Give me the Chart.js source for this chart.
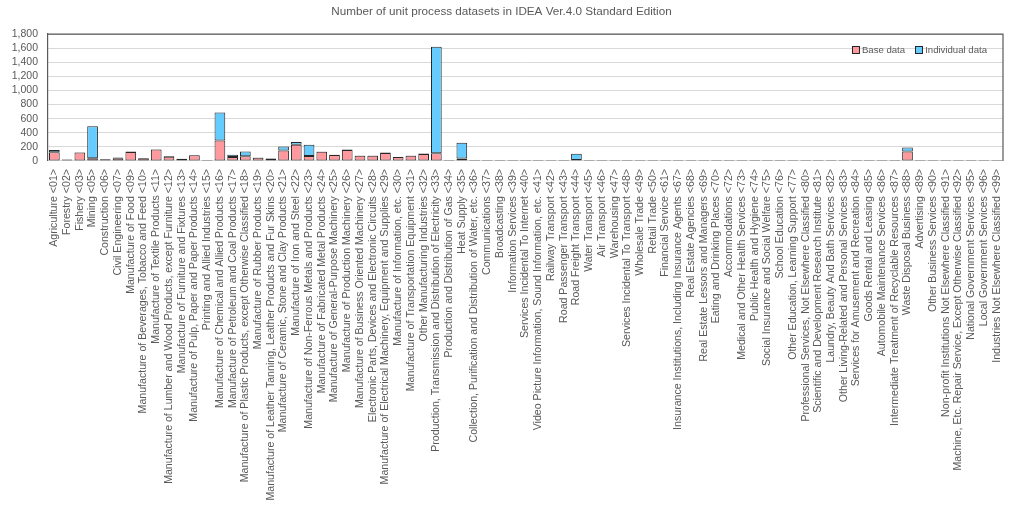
<!DOCTYPE html>
<html>
<head>
<meta charset="utf-8">
<title>IDEA Ver.4.0 unit process datasets</title>
<script src="https://cdn.jsdelivr.net/npm/chart.js@4"></script>
<style>
    html, body { margin: 0; padding: 0; background: #ffffff; }
    #wrap { position: relative; width: 1024px; height: 507px; }
    #legend {
        position: absolute; top: 44px; right: 37px;
        font: 9.6px 'Liberation Sans', Arial, sans-serif; color: #595959;
        display: flex; gap: 10px; white-space: nowrap;
    }
    #legend span.box {
        display: inline-block; width: 6px; height: 6px; margin-right: 2px;
        border: 1px solid #262626; vertical-align: -1px;
    }
</style>
</head>
<body>
<div id="wrap">
    <canvas id="chart" width="1024" height="507"></canvas>
    <div id="legend"></div>
</div>
<script>
"use strict";

const canvas = document.getElementById("chart");

const chartTitle = "Number of unit process datasets in IDEA Ver.4.0 Standard Edition";

const categories = [
    "Agriculture <01>", "Forestry <02>", "Fishery <03>", "Mining <05>", "Construction <06>",
    "Civil Engineering <07>", "Manufacture of Food <09>", "Manufacture of Beverages, Tobacco and Feed <10>",
    "Manufacture of Textile Products <11>", "Manufacture of Lumber and Wood Products, except Furniture <12>",
    "Manufacture of Furniture and Fixtures <13>", "Manufacture of Pulp, Paper and Paper Products <14>",
    "Printing and Allied Industries <15>", "Manufacture of Chemical and Allied Products <16>",
    "Manufacture of Petroleum and Coal Products <17>", "Manufacture of Plastic Products, except Otherwise Classified <18>",
    "Manufacture of Rubber Products <19>", "Manufacture of Leather Tanning, Leather Products and Fur Skins <20>",
    "Manufacture of Ceramic, Stone and Clay Products <21>", "Manufacture of Iron and Steel <22>",
    "Manufacture of Non-Ferrous Metals and Products <23>", "Manufacture of Fabricated Metal Products <24>",
    "Manufacture of General-Purpose Machinery <25>", "Manufacture of Production Machinery <26>",
    "Manufacture of Business Oriented Machinery <27>", "Electronic Parts, Devices and Electronic Circuits <28>",
    "Manufacture of Electrical Machinery, Equipment and Supplies <29>", "Manufacture of Information, etc. <30>",
    "Manufacture of Transportation Equipment <31>", "Other Manufacturing Industries <32>",
    "Production, Transmission and Distribution of Electricity <33>", "Production and Distribution of Gas <34>",
    "Heat Supply <35>", "Collection, Purification and Distribution of Water, etc. <36>",
    "Communications <37>", "Broadcasting <38>", "Information Services <39>",
    "Services Incidental To Internet <40>", "Video Picture Information, Sound Information, etc. <41>",
    "Railway Transport <42>", "Road Passenger Transport <43>", "Road Freight Transport <44>",
    "Water Transport <45>", "Air Transport <46>", "Warehousing <47>",
    "Services Incidental To Transport <48>", "Wholesale Trade <49>", "Retail Trade <50>",
    "Financial Service <61>", "Insurance Institutions, Including Insurance Agents <67>",
    "Real Estate Agencies <68>", "Real Estate Lessors and Managers <69>", "Eating and Drinking Places <70>",
    "Accommodations <72>", "Medical and Other Health Services <73>", "Public Health and Hygiene <74>",
    "Social Insurance and Social Welfare <75>", "School Education <76>",
    "Other Education, Learning Support <77>", "Professional Services, Not Elsewhere Classified <80>",
    "Scientific and Development Research Institute <81>", "Laundry, Beauty And Bath Services <82>",
    "Other Living-Related and Personal Services <83>", "Services for Amusement and Recreation <84>",
    "Goods Rental and Leasing <85>", "Automobile Maintenance Services <86>",
    "Intermediate Treatment of Recyclable Resources <87>", "Waste Disposal Business <88>",
    "Advertising <89>", "Other Business Services <90>",
    "Non-profit Institutions Not Elsewhere Classified <91>",
    "Machine, Etc. Repair Service, Except Otherwise Classified <92>",
    "National Government Services <95>", "Local Government Services <96>",
    "Industries Not Elsewhere Classified <99>"
];

// values (number of datasets)
const baseData = [
    125, 20, 120, 38, 25, 38, 128, 40, 162, 62,
    28, 80, 2, 292, 55, 67, 45, 36, 150, 232,
    71, 130, 85, 155, 74, 76, 115, 55, 74, 100,
    110, 0, 35, 8, 0, 0, 0, 0, 0, 0,
    0, 3, 15, 0, 0, 0, 8, 8, 0, 0,
    0, 0, 0, 0, 0, 0, 0, 0, 0, 0,
    0, 0, 0, 0, 0, 0, 15, 135, 0, 0,
    0, 0, 0, 0, 0
];
const individualData = [
    30, 4, 4, 455, 3, 10, 5, 3, 5, 8,
    5, 6, 0, 395, 35, 66, 3, 2, 55, 38,
    160, 5, 5, 8, 3, 2, 6, 3, 3, 8,
    1510, 0, 222, 0, 0, 0, 0, 0, 0, 0,
    0, 90, 0, 0, 0, 0, 0, 0, 0, 0,
    0, 0, 0, 0, 0, 0, 0, 0, 0, 0,
    0, 0, 0, 0, 0, 0, 0, 55, 0, 0,
    0, 0, 0, 0, 0
];

const yTicks = [0, 200, 400, 600, 800, 1000, 1200, 1400, 1600, 1800];

const textColor = "#595959";
const fontFamily = "'Liberation Sans', Arial, sans-serif";

// top and right edges of the plot frame (left edge is the y axis border)
const plotFrame = {
    id: "plotFrame",
    afterDatasetsDraw(chart) {
        const { ctx, chartArea } = chart;
        ctx.save();
        ctx.strokeStyle = "#595959";
        ctx.lineWidth = 1.2;
        ctx.beginPath();
        ctx.moveTo(chartArea.left, chartArea.top);
        ctx.lineTo(chartArea.right, chartArea.top);
        ctx.lineTo(chartArea.right, chartArea.bottom);
        ctx.stroke();
        ctx.restore();
    }
};

const chart = new Chart(canvas, {
    type: "bar",
    data: {
        labels: categories,
        datasets: [
            {
                label: "Base data",
                data: baseData,
                backgroundColor: "#ff999e",
                borderColor: "#262626",
                borderWidth: 1,
                borderSkipped: false,
                minBarLength: 1,
                barPercentage: 0.84,
                categoryPercentage: 1.0
            },
            {
                label: "Individual data",
                data: individualData,
                backgroundColor: "#66ccff",
                borderColor: "#262626",
                borderWidth: 1,
                borderSkipped: false,
                barPercentage: 0.84,
                categoryPercentage: 1.0
            }
        ]
    },
    options: {
        responsive: false,
        animation: false,
        devicePixelRatio: 1,
        layout: {
            padding: { left: 0, right: 21, top: 0, bottom: 0 }
        },
        plugins: {
            title: {
                display: true,
                text: chartTitle,
                color: textColor,
                font: { family: fontFamily, size: 11.7, weight: "normal" },
                padding: { top: 5, bottom: 15 }
            },
            legend: { display: false },
            tooltip: { enabled: false }
        },
        scales: {
            x: {
                stacked: true,
                grid: { display: false },
                border: { display: false },
                ticks: {
                    autoSkip: false,
                    minRotation: 90,
                    maxRotation: 90,
                    color: textColor,
                    font: { family: fontFamily, size: 10.6 },
                    padding: 0
                },
                afterFit: (scale) => { scale.height = 346; }
            },
            y: {
                stacked: true,
                min: yTicks[0],
                max: yTicks[yTicks.length - 1],
                afterBuildTicks: (scale) => { scale.ticks = yTicks.map(v => ({ value: v })); },
                grid: { color: "#d9d9d9", drawTicks: false },
                border: { display: true, color: "#595959", width: 1.2 },
                ticks: {
                    autoSkip: false,
                    color: textColor,
                    font: { family: fontFamily, size: 10.5 },
                    padding: 10,
                    callback: (value) => value.toLocaleString("en-US")
                },
                afterFit: (scale) => { scale.width = 48; }
            }
        }
    },
    plugins: [plotFrame]
});

// legend as html, built from the datasets
const legendBox = document.getElementById("legend");
chart.data.datasets.forEach(ds => {
    const item = document.createElement("span");
    const box = document.createElement("span");
    box.className = "box";
    box.style.background = ds.backgroundColor;
    item.appendChild(box);
    item.appendChild(document.createTextNode(ds.label));
    legendBox.appendChild(item);
});
</script>
</body>
</html>
